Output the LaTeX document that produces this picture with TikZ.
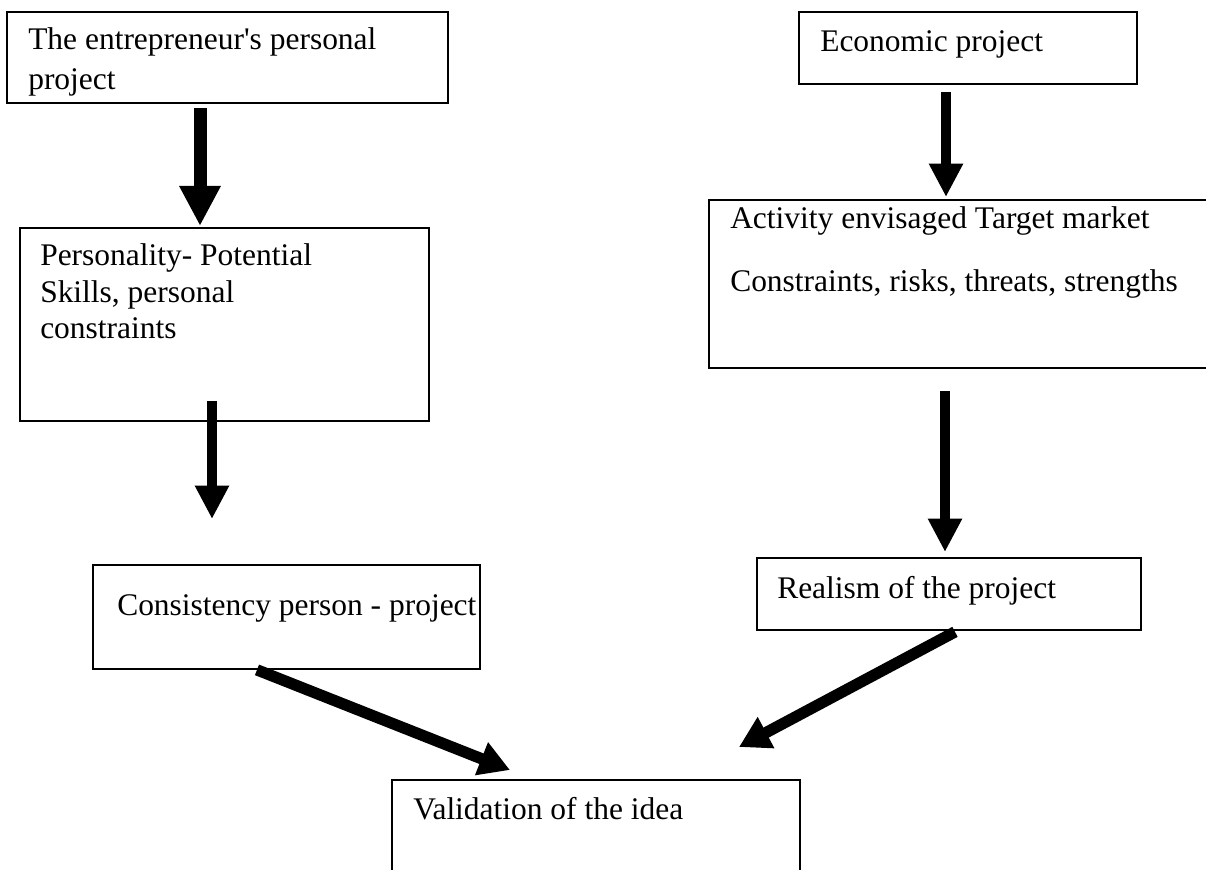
\documentclass[tikz,border=0pt]{standalone}
\usepackage{fontspec}
\setmainfont{Liberation Serif}
\usetikzlibrary{arrows.meta,calc}
\newcommand\pxu{0.75pt}
\begin{document}
\begin{tikzpicture}[x=0.75pt,y=-0.75pt,
  box/.style={draw=black, line width=1.4pt, rectangle, anchor=north west, inner sep=0pt, fill=white},
  txt/.style={anchor=base west, inner sep=0pt, text=black, font=\fontsize{23.6pt}{28pt}\selectfont},
  arrowbig/.style={draw=black, line width=9.75pt, -{Triangle[length=30pt, width=29pt]}},
  arrowmid/.style={draw=black, line width=7.5pt, -{Triangle[length=25pt, width=24pt]}},
  arrowdiag/.style={draw=black, line width=8.5pt, -{Triangle[length=23pt, width=25pt]}}]
\fill[white] (0,0) rectangle (1206,870);
\useasboundingbox (0,0) rectangle (1206,870);

% boxes
\node[box, minimum width=441*\pxu, minimum height=91*\pxu] (b1) at (6,11) {};
\node[box, minimum width=409*\pxu, minimum height=193*\pxu] (b2) at (19,227) {};
\node[box, minimum width=387*\pxu, minimum height=104*\pxu] (b3) at (92,564) {};
\node[box, minimum width=338*\pxu, minimum height=72*\pxu] (b4) at (798,11) {};
\node[box, minimum width=520*\pxu, minimum height=168*\pxu] (b5) at (708,199) {};
\node[box, minimum width=384*\pxu, minimum height=72*\pxu] (b7) at (756,557) {};
\node[box, minimum width=408*\pxu, minimum height=110*\pxu] (b6) at (391,779) {};

% texts
\node[txt] (t1a) at (28,50) {The entrepreneur\textquotesingle s personal};
\node[txt] (t1b) at (28,90) {project};
\node[txt] (t2a) at (40,265) {Personality- Potential};
\node[txt] (t2b) at (40,302) {Skills, personal};
\node[txt] (t2c) at (40,338) {constraints};
\node[txt] (t3) at (117,615) {Consistency person - project};
\node[txt] (t4) at (820,52) {Economic project};
\node[txt] (t5a) at (730,228) {Activity envisaged Target market};
\node[txt] (t5b) at (730,291) {Constraints, risks, threats, strengths};
\node[txt] (t7) at (777,598) {Realism of the project};
\node[txt] (t6) at (413,819) {Validation of the idea};

% connectors
\draw[arrowbig] ($(b1.south west)+(194,4)$) -- ($(b2.north west)+(181,-1)$);
\draw[arrowmid] ($(b2.south west)+(193,-21)$) -- ($(b3.north west)+(120,-45)$);
\draw[arrowdiag] ($(b3.south west)+(165,0)$) -- ($(b6.north west)+(119,-9)$);
\draw[arrowmid] ($(b4.south west)+(148,7)$) -- ($(b5.north west)+(238,-2)$);
\draw[arrowmid] ($(b5.south west)+(237,22)$) -- ($(b7.north west)+(189,-5)$);
\draw[arrowdiag] ($(b7.south west)+(199,1)$) -- ($(b6.north west)+(348,-32)$);
\end{tikzpicture}
\end{document}
